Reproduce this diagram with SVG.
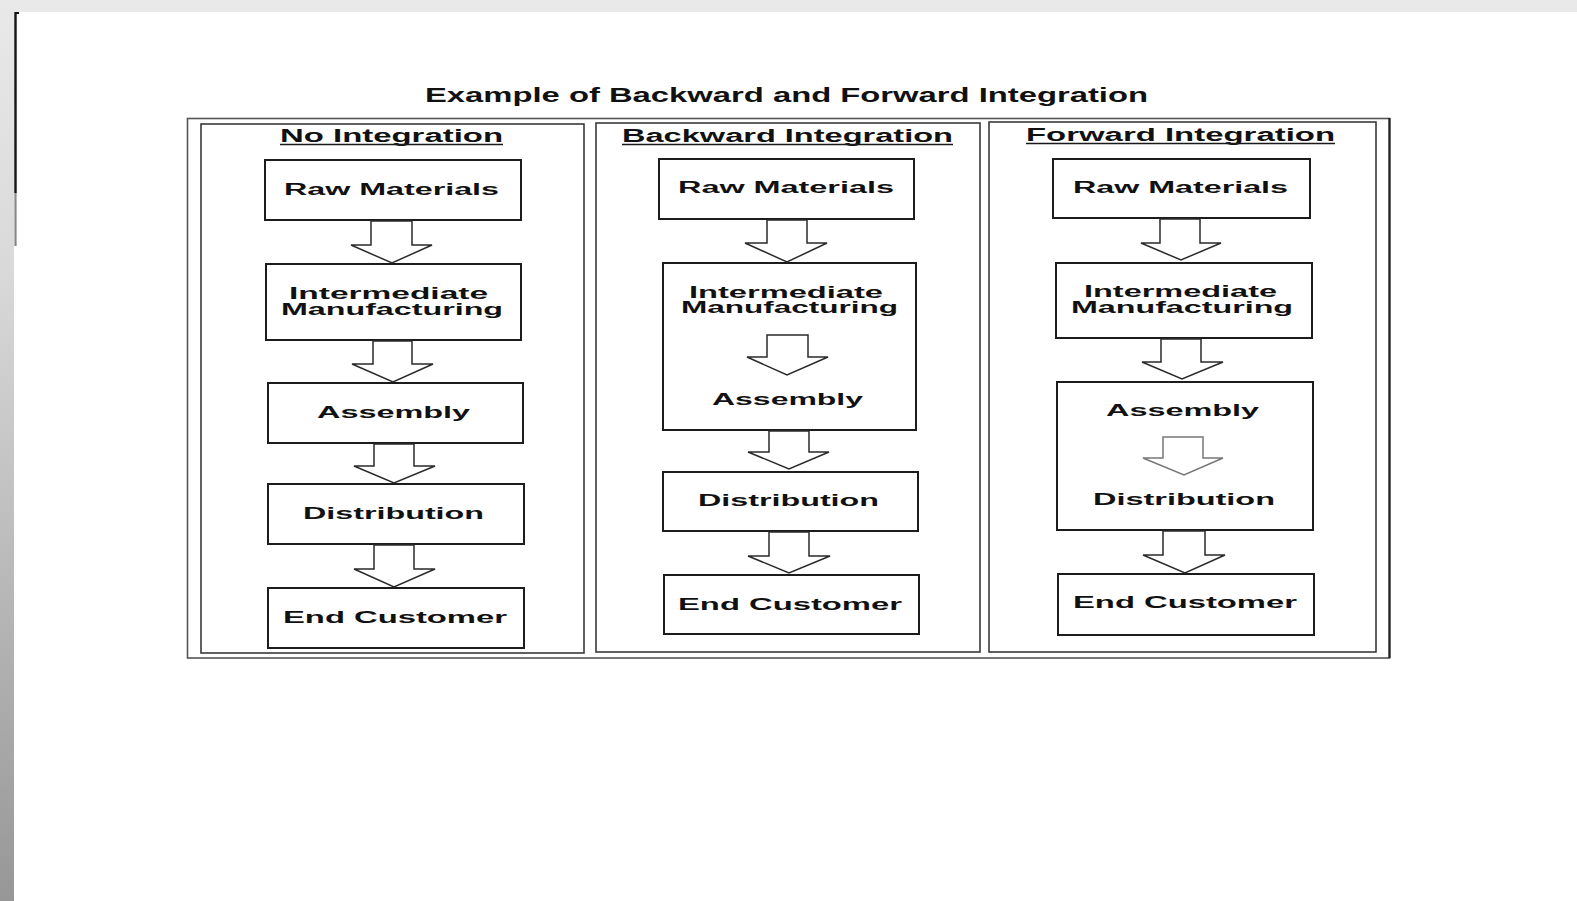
<svg xmlns="http://www.w3.org/2000/svg" width="1577" height="901" viewBox="0 0 1577 901">
<style>
.t{font-family:"Liberation Sans",Arial,sans-serif;font-weight:bold;fill:#111;text-anchor:middle}
.title{font-size:20px}
.head{font-size:17.5px}
.lbl{font-size:16px}
.box{fill:#fff;stroke:#1c1c1c;stroke-width:2}
.col{fill:none;stroke:#3a3a3a;stroke-width:1.6}
.arr{fill:#fff;stroke:#2a2a2a;stroke-width:1.5;stroke-linejoin:miter}
.arr.light{stroke:#777}
.ul{stroke:#1a1a1a;stroke-width:1.6}
</style>
<defs>
<linearGradient id="side" x1="0" y1="0" x2="0" y2="1">
<stop offset="0" stop-color="#e9e9e9"/>
<stop offset="0.3" stop-color="#d9d9d9"/>
<stop offset="1" stop-color="#979797"/>
</linearGradient>
</defs>
<g id="background">
<rect x="0" y="0" width="1577" height="901" fill="#ffffff"/>
<rect x="0" y="0" width="1577" height="12" fill="#e9e9e9"/>
<rect x="0" y="0" width="14" height="901" fill="url(#side)"/>
<path d="M15.5 246 V13 H19" fill="none" stroke="#888" stroke-width="2.2"/>
<path d="M15.5 193 V13 H19" fill="none" stroke="#151515" stroke-width="2.2"/>
</g>
<g id="title">
<text class="t title" x="786.5" y="102" textLength="723" lengthAdjust="spacingAndGlyphs">Example of Backward and Forward Integration</text>
</g>
<g id="frames">
<rect x="187.5" y="118.5" width="1202" height="539.5" fill="none" stroke="#555" stroke-width="1.6"/>
<line x1="1389.5" y1="118" x2="1389.5" y2="658" stroke="#222" stroke-width="2.2"/>
<rect class="col" x="201" y="124" width="383" height="529"/>
<rect class="col" x="596" y="123" width="384" height="529"/>
<rect class="col" x="989" y="122" width="387" height="530"/>
</g>
<g id="col-no-integration">
<text class="t head" x="391.5" y="142" textLength="223" lengthAdjust="spacingAndGlyphs">No Integration</text>
<line class="ul" x1="280" y1="144.5" x2="503" y2="144.5"/>
<g id="n1-raw"><rect class="box" x="265" y="160" width="256" height="60"/><text class="t lbl" x="391.5" y="195" textLength="215" lengthAdjust="spacingAndGlyphs">Raw Materials</text></g>
<g id="n1-inter"><rect class="box" x="266" y="264" width="255" height="76"/><text class="t lbl" x="388.5" y="299" textLength="199" lengthAdjust="spacingAndGlyphs">Intermediate</text><text class="t lbl" x="392" y="315" textLength="222" lengthAdjust="spacingAndGlyphs">Manufacturing</text></g>
<g id="n1-asm"><rect class="box" x="268" y="383" width="255" height="60"/><text class="t lbl" x="393.5" y="418" textLength="153" lengthAdjust="spacingAndGlyphs">Assembly</text></g>
<g id="n1-dist"><rect class="box" x="268" y="484" width="256" height="60"/><text class="t lbl" x="393.5" y="519" textLength="181" lengthAdjust="spacingAndGlyphs">Distribution</text></g>
<g id="n1-end"><rect class="box" x="268" y="588" width="256" height="60"/><text class="t lbl" x="395" y="623" textLength="224" lengthAdjust="spacingAndGlyphs">End Customer</text></g>
</g>
<g id="col-backward-integration">
<text class="t head" x="787.5" y="142" textLength="331" lengthAdjust="spacingAndGlyphs">Backward Integration</text>
<line class="ul" x1="622" y1="144.5" x2="953" y2="144.5"/>
<g id="n2-raw"><rect class="box" x="659" y="159" width="255" height="60"/><text class="t lbl" x="786" y="193" textLength="216" lengthAdjust="spacingAndGlyphs">Raw Materials</text></g>
<g id="n2-inter-asm"><rect class="box" x="663" y="263" width="253" height="167"/><text class="t lbl" x="786" y="298" textLength="194" lengthAdjust="spacingAndGlyphs">Intermediate</text><text class="t lbl" x="789.5" y="313" textLength="217" lengthAdjust="spacingAndGlyphs">Manufacturing</text><text class="t lbl" x="787.5" y="405" textLength="151" lengthAdjust="spacingAndGlyphs">Assembly</text></g>
<g id="n2-dist"><rect class="box" x="663" y="472" width="255" height="59"/><text class="t lbl" x="788.5" y="506" textLength="181" lengthAdjust="spacingAndGlyphs">Distribution</text></g>
<g id="n2-end"><rect class="box" x="664" y="575" width="255" height="59"/><text class="t lbl" x="790" y="610" textLength="224" lengthAdjust="spacingAndGlyphs">End Customer</text></g>
</g>
<g id="col-forward-integration">
<text class="t head" x="1180.5" y="141" textLength="309" lengthAdjust="spacingAndGlyphs">Forward Integration</text>
<line class="ul" x1="1026" y1="143.5" x2="1335" y2="143.5"/>
<g id="n3-raw"><rect class="box" x="1053" y="159" width="257" height="59"/><text class="t lbl" x="1180.5" y="193" textLength="215" lengthAdjust="spacingAndGlyphs">Raw Materials</text></g>
<g id="n3-inter"><rect class="box" x="1056" y="263" width="256" height="75"/><text class="t lbl" x="1180.5" y="297" textLength="193" lengthAdjust="spacingAndGlyphs">Intermediate</text><text class="t lbl" x="1182" y="313" textLength="222" lengthAdjust="spacingAndGlyphs">Manufacturing</text></g>
<g id="n3-asm-dist"><rect class="box" x="1057" y="382" width="256" height="148"/><text class="t lbl" x="1182.5" y="416" textLength="153" lengthAdjust="spacingAndGlyphs">Assembly</text><text class="t lbl" x="1184" y="505" textLength="182" lengthAdjust="spacingAndGlyphs">Distribution</text></g>
<g id="n3-end"><rect class="box" x="1058" y="574" width="256" height="61"/><text class="t lbl" x="1185" y="608" textLength="224" lengthAdjust="spacingAndGlyphs">End Customer</text></g>
</g>
<g id="connectors">
<polygon class="arr" points="371,221 412,221 412,245 432,245 392,263 351,245 371,245"/>
<polygon class="arr" points="373,341 412,341 412,364 433,364 393,382 352,364 373,364"/>
<polygon class="arr" points="374,444 414,444 414,466 435,466 394,483 354,466 374,466"/>
<polygon class="arr" points="374,545 414,545 414,569 435,569 394,587 354,569 374,569"/>
<polygon class="arr" points="767,220 807,220 807,243 827,243 787,262 745,243 767,243"/>
<polygon class="arr" points="767,335 808,335 808,357 828,357 787,375 747,357 767,357"/>
<polygon class="arr" points="769,431 809,431 809,452 829,452 789,469 748,452 769,452"/>
<polygon class="arr" points="769,532 809,532 809,556 830,556 789,573 748,556 769,556"/>
<polygon class="arr" points="1160,219 1200,219 1200,243 1221,243 1181,260 1141,243 1160,243"/>
<polygon class="arr" points="1161,339 1201,339 1201,362 1223,362 1182,379 1142,362 1161,362"/>
<polygon class="arr light" points="1163,437 1203,437 1203,458 1223,458 1184,475 1143,458 1163,458"/>
<polygon class="arr" points="1163,531 1205,531 1205,555 1225,555 1185,573 1143,555 1163,555"/>
</g>
</svg>
